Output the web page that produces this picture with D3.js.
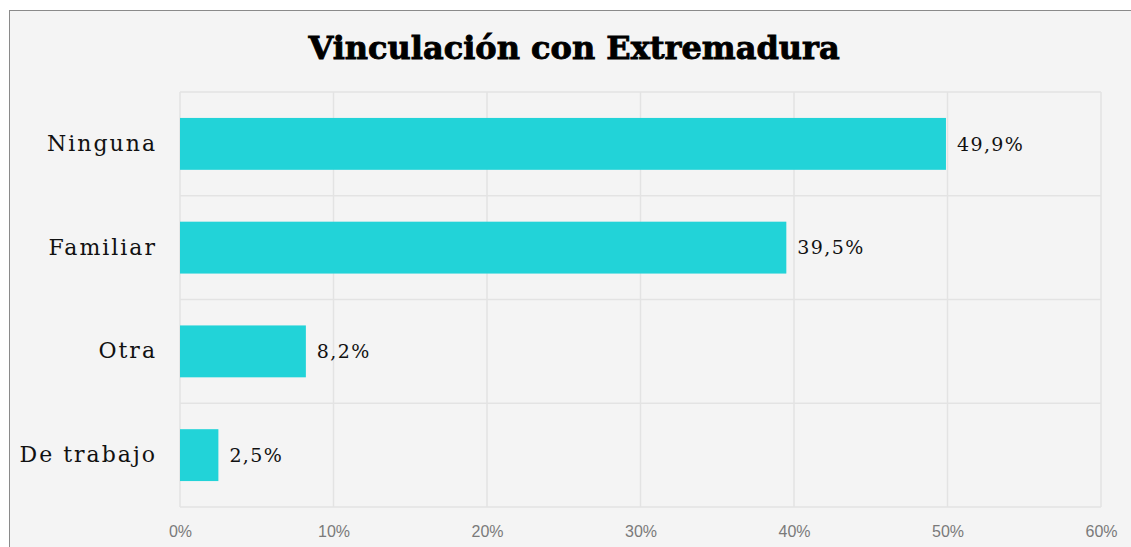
<!DOCTYPE html>
<html><head><meta charset="utf-8">
<script src="https://cdn.jsdelivr.net/npm/d3@7"></script>
<style>html,body{margin:0;padding:0;background:#fff;overflow:hidden}</style>
</head><body>
<svg id="chart" width="1131" height="547"></svg>
<script>
const categories = ["Ninguna", "Familiar", "Otra", "De trabajo"];
const values = [49.9, 39.5, 8.2, 2.5];
const valueLabels = ["49,9%", "39,5%", "8,2%", "2,5%"];
const tickValues = [0, 10, 20, 30, 40, 50, 60];
const title = "Vinculación con Extremadura";

const svg = d3.select("#chart");
const m = {left: 180, right: 1101, top: 92, bottom: 507};

svg.append("rect").attr("x", 9.5).attr("y", 10.5).attr("width", 1200).attr("height", 600)
  .attr("fill", "#f4f4f4").attr("stroke", "#8a8a8a").attr("stroke-width", 1);

const x = d3.scaleLinear().domain([0, 60]).range([m.left, m.right]);
const y = d3.scaleBand().domain(categories).range([m.top, m.bottom]).paddingInner(0.5).paddingOuter(0.25);
const yRows = d3.scaleBand().domain(categories).range([m.top, m.bottom]);

// grid
const g = svg.append("g");
g.selectAll("line.v").data(tickValues).enter().append("line")
  .attr("x1", d => x(d)).attr("x2", d => x(d)).attr("y1", m.top).attr("y2", m.bottom)
  .attr("stroke", "#e3e3e3").attr("stroke-width", 1.5);
const hLines = [m.top].concat(categories.map(c => yRows(c) + yRows.bandwidth()));
g.selectAll("line.h").data(hLines).enter().append("line")
  .attr("x1", m.left).attr("x2", m.right).attr("y1", d => d).attr("y2", d => d)
  .attr("stroke", "#e3e3e3").attr("stroke-width", 1.5);

// bars
svg.selectAll("rect.bar").data(values).enter().append("rect")
  .attr("x", x(0)).attr("y", (d, i) => y(categories[i]))
  .attr("width", d => x(d) - x(0)).attr("height", y.bandwidth())
  .attr("fill", "#22d3d8");

// value labels
svg.selectAll("text.val").data(values).enter().append("text")
  .attr("x", d => x(d) + 11).attr("y", (d, i) => y(categories[i]) + y.bandwidth() / 2)
  .attr("dy", "0.35em")
  .attr("font-family", "'DejaVu Serif', serif").attr("font-size", 19)
  .attr("letter-spacing", 1.4)
  .attr("fill", "#111").text((d, i) => valueLabels[i]);

// category labels
const yAxis = d3.axisLeft(y).tickSize(0).tickPadding(0);
const ya = svg.append("g").attr("transform", `translate(157,0)`).call(yAxis);
ya.select(".domain").remove();
ya.selectAll("text").attr("font-family", "'DejaVu Serif', serif").attr("font-size", 22)
  .attr("letter-spacing", 2).attr("fill", "#111");

// x axis
const xAxis = d3.axisBottom(x).tickValues(tickValues).tickFormat(d => d + "%").tickSize(0).tickPadding(0);
const xa = svg.append("g").attr("transform", `translate(0,${526})`).call(xAxis);
xa.select(".domain").remove();
xa.selectAll("text").attr("font-family", "'Liberation Sans', Arial, sans-serif").attr("font-size", 16)
  .attr("fill", "#7a7a7a");

// title
svg.append("text").attr("x", 574).attr("y", 59).attr("text-anchor", "middle")
  .attr("font-family", "'DejaVu Serif', serif").attr("font-weight", "900").attr("font-size", 32)
  .attr("stroke", "#000").attr("stroke-width", 0.9)
  .attr("fill", "#000").text(title);
</script>
</body></html>
